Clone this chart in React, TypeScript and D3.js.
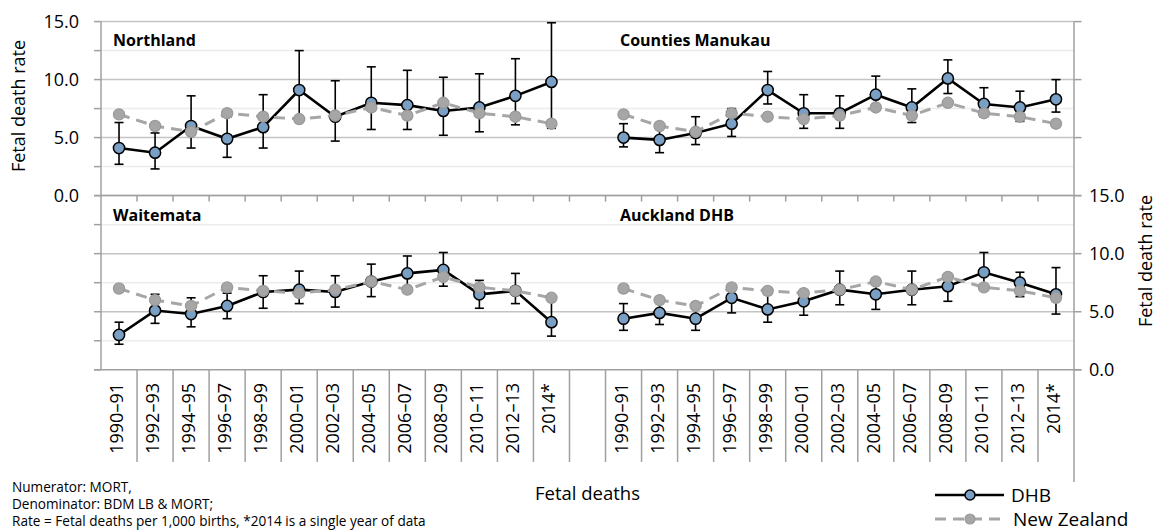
import React from "react";
import * as d3 from "d3";

const categories = ["1990–91","1992–93","1994–95","1996–97","1998–99","2000–01","2002–03","2004–05","2006–07","2008–09","2010–11","2012–13","2014*"];

const nzRate = [7.0, 6.0, 5.5, 7.1, 6.8, 6.6, 6.9, 7.6, 6.9, 8.0, 7.1, 6.8, 6.2];

const northlandRate = [4.1, 3.7, 6.0, 4.9, 5.9, 9.1, 6.8, 8.0, 7.8, 7.3, 7.6, 8.6, 9.8];
const northlandLow = [2.7, 2.3, 4.1, 3.3, 4.1, 6.4, 4.7, 5.7, 5.7, 5.2, 5.5, 6.1, 5.8];
const northlandHigh = [6.3, 5.4, 8.6, 6.8, 8.7, 12.5, 9.9, 11.1, 10.8, 10.2, 10.5, 11.8, 14.9];

const countiesRate = [5.0, 4.8, 5.4, 6.2, 9.1, 7.1, 7.1, 8.7, 7.6, 10.1, 7.9, 7.6, 8.3];
const countiesLow = [4.2, 3.7, 4.4, 5.1, 7.9, 5.8, 5.8, 7.5, 6.3, 8.8, 6.8, 6.4, 7.2];
const countiesHigh = [6.2, 5.9, 6.8, 7.5, 10.7, 8.7, 8.6, 10.3, 9.2, 11.7, 9.3, 9.0, 10.0];

const waitemataRate = [3.0, 5.1, 4.8, 5.5, 6.7, 6.9, 6.7, 7.6, 8.3, 8.6, 6.5, 6.8, 4.1];
const waitemataLow = [2.2, 4.0, 3.7, 4.4, 5.3, 5.7, 5.4, 6.3, 6.9, 7.2, 5.3, 5.7, 2.9];
const waitemataHigh = [4.1, 6.5, 6.2, 6.6, 8.1, 8.5, 8.1, 9.1, 9.8, 10.1, 7.7, 8.3, 6.2];

const aucklandRate = [4.4, 4.9, 4.4, 6.2, 5.2, 5.9, 6.9, 6.5, 6.9, 7.2, 8.4, 7.5, 6.5];
const aucklandLow = [3.4, 3.9, 3.4, 4.9, 4.1, 4.7, 5.6, 5.2, 5.6, 5.9, 7.1, 6.3, 4.8];
const aucklandHigh = [5.7, 5.9, 5.5, 7.0, 6.5, 6.7, 8.5, 7.8, 8.5, 7.9, 10.1, 8.4, 8.8];

const yTicks = [0, 2.5, 5, 7.5, 10, 12.5, 15];
const yLabelTicks = [0, 5, 10, 15];

const notes = [
  "Numerator: MORT,",
  "Denominator: BDM LB & MORT;",
  "Rate = Fetal deaths per 1,000 births, *2014 is a single year of data",
];

const FONT = "'Open Sans', 'Noto Sans', sans-serif";
const W = 1158, H = 531;
const LEFT = 101, RIGHT = 1074;

// 27 slots: 13 left, one gap, 13 right
const slotKeys = [
  ...categories.map((c) => "L" + c),
  "gap",
  ...categories.map((c) => "R" + c),
];
const x = d3.scaleBand<string>().domain(slotKeys).range([LEFT, RIGHT]).paddingInner(0).paddingOuter(0);
const bw = x.bandwidth();

const yTop = d3.scaleLinear().domain([0, 15]).range([195.6, 21.6]);
const yBot = d3.scaleLinear().domain([0, 15]).range([369.8, 195.6]);

type Panel = { name: string; side: "L" | "R"; y: d3.ScaleLinear<number, number>; rate: number[]; lo: number[]; hi: number[] };
const panels: Panel[] = [
  { name: "Northland", side: "L", y: yTop, rate: northlandRate, lo: northlandLow, hi: northlandHigh },
  { name: "Counties Manukau", side: "R", y: yTop, rate: countiesRate, lo: countiesLow, hi: countiesHigh },
  { name: "Waitemata", side: "L", y: yBot, rate: waitemataRate, lo: waitemataLow, hi: waitemataHigh },
  { name: "Auckland DHB", side: "R", y: yBot, rate: aucklandRate, lo: aucklandLow, hi: aucklandHigh },
];

const DHB_FILL = "#7a9fc4";
const NZ_FILL = "#a6a6a6";
const AXIS = "#a0a0a0";
const MAJOR = "#c4c4c4";
const MINOR = "#ececec";

function cx(side: string, i: number) {
  return (x(side + categories[i]) as number) + bw / 2;
}

function PanelMarks({ p }: { p: Panel }) {
  const line = d3.line<number>().x((_, i) => cx(p.side, i)).y((v) => p.y(v));
  return (
    <g>
      {p.rate.map((_, i) => {
        const xx = cx(p.side, i);
        const y1 = p.y(p.lo[i]);
        const y2 = p.y(p.hi[i]);
        return (
          <g key={"e" + i} stroke="#000" strokeWidth={1.6}>
            <line x1={xx} x2={xx} y1={y1} y2={y2} />
            <line x1={xx - 4.5} x2={xx + 4.5} y1={y1} y2={y1} />
            <line x1={xx - 4.5} x2={xx + 4.5} y1={y2} y2={y2} />
          </g>
        );
      })}
      <path d={line(p.rate) || ""} fill="none" stroke="#000" strokeWidth={2.6} />
      {p.rate.map((v, i) => (
        <circle key={"d" + i} cx={cx(p.side, i)} cy={p.y(v)} r={5.6} fill={DHB_FILL} stroke="#000" strokeWidth={1.5} />
      ))}
      <path d={line(nzRate) || ""} fill="none" stroke={NZ_FILL} strokeWidth={3} strokeDasharray="11,7" />
      {nzRate.map((v, i) => (
        <circle key={"n" + i} cx={cx(p.side, i)} cy={p.y(v)} r={5.6} fill={NZ_FILL} stroke="#999" strokeWidth={1.2} />
      ))}
      <text
        x={p.side === "L" ? 113 : 620}
        y={p.y === yTop ? 45.5 : 220.5}
        fontFamily={FONT}
        fontWeight={700}
        fontSize={16}
        fill="#000"
      >
        {p.name}
      </text>
    </g>
  );
}

export default function App() {
  const boundaries = d3.range(1, 27).map((i) => LEFT + i * bw);
  return (
    <svg width={W} height={H} style={{ position: "absolute", left: 0, top: 0, background: "#fff" }}>
      <rect x={0} y={0} width={W} height={H} fill="#fff" />
      {/* gridlines */}
      {[yTop, yBot].map((y, k) => (
        <g key={"g" + k}>
          {yTicks.filter((t) => t % 5 !== 0).map((t) => (
            <line key={t} x1={LEFT} x2={RIGHT} y1={y(t)} y2={y(t)} stroke={MINOR} strokeWidth={1.5} />
          ))}
          {[5, 10, 15].map((t) => (
            <line key={t} x1={LEFT} x2={RIGHT} y1={y(t)} y2={y(t)} stroke={MAJOR} strokeWidth={1.5} />
          ))}
        </g>
      ))}
      {/* horizontal axes */}
      <line x1={LEFT} x2={RIGHT} y1={yTop(0)} y2={yTop(0)} stroke={AXIS} strokeWidth={1.5} />
      <line x1={94} x2={1081.5} y1={yBot(0)} y2={yBot(0)} stroke={AXIS} strokeWidth={1.5} />
      {/* top panel category ticks */}
      {boundaries.map((bx, i) => (
        <line key={"tt" + i} x1={bx} x2={bx} y1={yTop(0)} y2={yTop(0) + 6} stroke={AXIS} strokeWidth={1.5} />
      ))}
      {/* bottom category separators */}
      {boundaries.map((bx, i) => (
        <line key={"bs" + i} x1={bx} x2={bx} y1={yBot(0)} y2={462} stroke={AXIS} strokeWidth={1.5} />
      ))}
      {/* left axis */}
      <line x1={LEFT} x2={LEFT} y1={yTop(15)} y2={yBot(0)} stroke={AXIS} strokeWidth={1.5} />
      {[yTop, yBot].map((y, k) =>
        yTicks.map((t) => (
          <line key={"lt" + k + t} x1={94} x2={LEFT} y1={y(t)} y2={y(t)} stroke={AXIS} strokeWidth={1.5} />
        ))
      )}
      {/* right axis */}
      <line x1={RIGHT} x2={RIGHT} y1={yTop(15)} y2={482} stroke={AXIS} strokeWidth={1.5} />
      {[yTop, yBot].map((y, k) =>
        yLabelTicks.map((t) => (
          <line key={"rt" + k + t} x1={RIGHT} x2={1081.5} y1={y(t)} y2={y(t)} stroke={AXIS} strokeWidth={1.5} />
        ))
      )}
      {/* left tick labels (top panel) */}
      {yLabelTicks.map((t) => (
        <text key={"ll" + t} x={79} y={yTop(t)} dy="0.35em" textAnchor="end" fontFamily={FONT} fontSize={18} fill="#000">
          {d3.format(".1f")(t)}
        </text>
      ))}
      {/* right tick labels (bottom panel) */}
      {yLabelTicks.map((t) => (
        <text key={"rl" + t} x={1089} y={yBot(t)} dy="0.35em" textAnchor="start" fontFamily={FONT} fontSize={18} fill="#000">
          {d3.format(".1f")(t)}
        </text>
      ))}
      {/* axis titles */}
      <text transform="translate(19,106) rotate(-90)" textAnchor="middle" dy="0.35em" fontFamily={FONT} fontSize={18} fill="#000">
        Fetal death rate
      </text>
      <text transform="translate(1145.5,261) rotate(-90)" textAnchor="middle" dy="0.35em" fontFamily={FONT} fontSize={18} fill="#000">
        Fetal death rate
      </text>
      {/* category labels */}
      {(["L", "R"] as const).map((side) =>
        categories.map((c, i) => (
          <text
            key={side + c}
            transform={`translate(${cx(side, i) + 4},383) rotate(-90)`}
            textAnchor="end"
            fontFamily={FONT}
            fontSize={18}
            fill="#000"
          >
            {c}
          </text>
        ))
      )}
      <text x={(LEFT + RIGHT) / 2} y={494} dy="0.35em" textAnchor="middle" fontFamily={FONT} fontSize={18.5} fill="#000">
        Fetal deaths
      </text>
      {/* panels */}
      {panels.map((p) => (
        <PanelMarks key={p.name} p={p} />
      ))}
      {/* notes */}
      {notes.map((n, i) => (
        <text key={"note" + i} x={12} y={487 + i * 17} dy="0.35em" fontFamily={FONT} fontSize={13.6} fill="#000">
          {n}
        </text>
      ))}
      {/* legend */}
      <g>
        <line x1={935} x2={1004} y1={495} y2={495} stroke="#000" strokeWidth={2.6} />
        <circle cx={970} cy={495} r={5} fill={DHB_FILL} stroke="#000" strokeWidth={1.5} />
        <text x={1011} y={495} dy="0.35em" fontFamily={FONT} fontSize={19} fill="#000">DHB</text>
        <line x1={935} x2={1004} y1={519} y2={519} stroke={NZ_FILL} strokeWidth={3} strokeDasharray="11,7" />
        <circle cx={970} cy={519} r={5} fill={NZ_FILL} stroke="#999" strokeWidth={1.2} />
        <text x={1013} y={519} dy="0.35em" fontFamily={FONT} fontSize={19} fill="#000">New Zealand</text>
      </g>
    </svg>
  );
}
